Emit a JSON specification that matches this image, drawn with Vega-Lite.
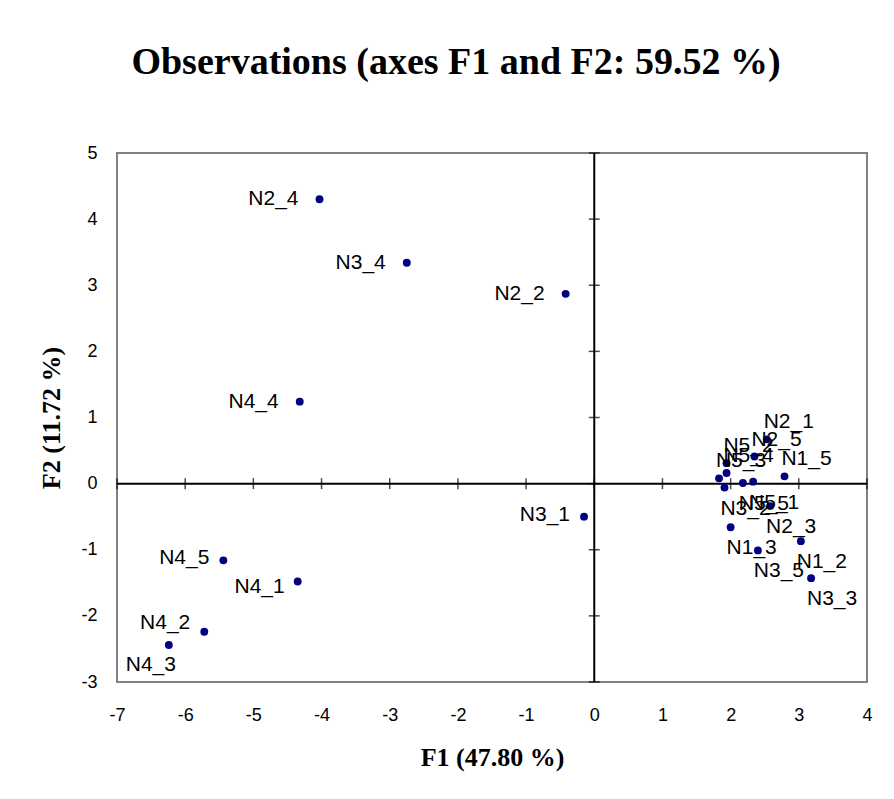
{
  "$schema": "https://vega.github.io/schema/vega-lite/v6.json",
  "autosize": {"type": "none"},
  "width": 750,
  "height": 529,
  "padding": {"left": 117, "top": 153, "right": 27, "bottom": 117},
  "background": "white",
  "title": {
    "text": "Observations (axes F1 and F2: 59.52 %)",
    "font": "Liberation Serif",
    "fontSize": 38,
    "fontWeight": "bold",
    "color": "black",
    "anchor": "middle",
    "dx": -36,
    "offset": 62
  },
  "config": {
    "view": {"stroke": "#808080", "strokeWidth": 2},
    "text": {"font": "Liberation Sans", "fontSize": 21, "color": "black"}
  },
  "datasets": {
    "obs": [
      {"name": "N2_4", "F1": -4.03, "F2": 4.30},
      {"name": "N3_4", "F1": -2.75, "F2": 3.34},
      {"name": "N2_2", "F1": -0.42, "F2": 2.87},
      {"name": "N4_4", "F1": -4.32, "F2": 1.24},
      {"name": "N3_1", "F1": -0.15, "F2": -0.50},
      {"name": "N4_5", "F1": -5.44, "F2": -1.16},
      {"name": "N4_1", "F1": -4.35, "F2": -1.48},
      {"name": "N4_2", "F1": -5.72, "F2": -2.24},
      {"name": "N4_3", "F1": -6.24, "F2": -2.44},
      {"name": "N2_1", "F1": 2.53, "F2": 0.67},
      {"name": "N2_5", "F1": 2.35, "F2": 0.41},
      {"name": "N5_2", "F1": 1.94, "F2": 0.31},
      {"name": "N5_4", "F1": 1.94, "F2": 0.16},
      {"name": "N5_3", "F1": 1.83, "F2": 0.08},
      {"name": "N3_2", "F1": 1.91, "F2": -0.06},
      {"name": "N5_5", "F1": 2.18, "F2": 0.01},
      {"name": "N5_1", "F1": 2.33, "F2": 0.03},
      {"name": "N1_5", "F1": 2.79, "F2": 0.11},
      {"name": "N2_3", "F1": 2.58, "F2": -0.34},
      {"name": "N1_3", "F1": 2.00, "F2": -0.66},
      {"name": "N1_2", "F1": 3.03, "F2": -0.87},
      {"name": "N3_5", "F1": 2.40, "F2": -1.01},
      {"name": "N3_3", "F1": 3.18, "F2": -1.43}
    ],
    "xticks": [
      {"t": -7}, {"t": -6}, {"t": -5}, {"t": -4}, {"t": -3}, {"t": -2},
      {"t": -1}, {"t": 0}, {"t": 1}, {"t": 2}, {"t": 3}, {"t": 4}
    ],
    "yticks": [
      {"t": -3}, {"t": -2}, {"t": -1}, {"t": 0}, {"t": 1},
      {"t": 2}, {"t": 3}, {"t": 4}, {"t": 5}
    ],
    "origin": [{"v": 0}]
  },
  "layer": [
    {
      "data": {"name": "origin"},
      "mark": {"type": "rule", "color": "black", "strokeWidth": 2},
      "encoding": {"x": {"field": "v", "type": "quantitative"}}
    },
    {
      "data": {"name": "origin"},
      "mark": {"type": "rule", "color": "black", "strokeWidth": 2},
      "encoding": {"y": {"field": "v", "type": "quantitative"}}
    },
    {
      "data": {"name": "xticks"},
      "mark": {"type": "tick", "orient": "vertical", "color": "black", "thickness": 1.5, "size": 11},
      "encoding": {
        "x": {"field": "t", "type": "quantitative"},
        "y": {"datum": 0, "type": "quantitative"}
      }
    },
    {
      "data": {"name": "yticks"},
      "mark": {"type": "tick", "orient": "horizontal", "color": "black", "thickness": 1.5, "size": 11},
      "encoding": {
        "y": {"field": "t", "type": "quantitative"},
        "x": {"datum": 0, "type": "quantitative"}
      }
    },
    {
      "data": {"name": "obs"},
      "mark": {"type": "point", "filled": true, "shape": "circle", "size": 62, "color": "#000080", "opacity": 1},
      "encoding": {
        "x": {
          "field": "F1", "type": "quantitative",
          "scale": {"domain": [-7, 4], "nice": false, "zero": false},
          "axis": {
            "orient": "bottom", "domain": false, "ticks": false, "grid": false,
            "values": [-7, -6, -5, -4, -3, -2, -1, 0, 1, 2, 3, 4],
            "labelExpr": "datum.value + ''",
            "labelFont": "Liberation Sans", "labelFontSize": 18, "labelColor": "black",
            "labelPadding": 24, "labelFlush": false,
            "title": "F1 (47.80 %)", "titleFont": "Liberation Serif", "titleFontSize": 26,
            "titleFontWeight": "bold", "titleColor": "black", "titlePadding": 20
          }
        },
        "y": {
          "field": "F2", "type": "quantitative",
          "scale": {"domain": [-3, 5], "nice": false, "zero": false},
          "axis": {
            "orient": "left", "domain": false, "ticks": false, "grid": false,
            "values": [-3, -2, -1, 0, 1, 2, 3, 4, 5],
            "labelExpr": "datum.value + ''",
            "labelFont": "Liberation Sans", "labelFontSize": 18, "labelColor": "black",
            "labelPadding": 20, "labelFlush": false,
            "title": "F2 (11.72 %)", "titleFont": "Liberation Serif", "titleFontSize": 26,
            "titleFontWeight": "bold", "titleColor": "black", "titlePadding": 16
          }
        }
      }
    },
    {
      "data": {"name": "obs"},
      "transform": [{"filter": {"field": "name", "oneOf": ["N2_4", "N3_4", "N2_2", "N4_4"]}}],
      "mark": {"type": "text", "align": "right", "baseline": "middle", "dx": -21, "dy": 0},
      "encoding": {"x": {"field": "F1", "type": "quantitative"}, "y": {"field": "F2", "type": "quantitative"}, "text": {"field": "name"}}
    },
    {
      "data": {"name": "obs"},
      "transform": [{"filter": {"field": "name", "oneOf": ["N3_1", "N4_5"]}}],
      "mark": {"type": "text", "align": "right", "baseline": "middle", "dx": -14, "dy": -2},
      "encoding": {"x": {"field": "F1", "type": "quantitative"}, "y": {"field": "F2", "type": "quantitative"}, "text": {"field": "name"}}
    },
    {
      "data": {"name": "obs"},
      "transform": [{"filter": {"field": "name", "equal": "N4_1"}}],
      "mark": {"type": "text", "align": "right", "baseline": "middle", "dx": -13, "dy": 6},
      "encoding": {"x": {"field": "F1", "type": "quantitative"}, "y": {"field": "F2", "type": "quantitative"}, "text": {"field": "name"}}
    },
    {
      "data": {"name": "obs"},
      "transform": [{"filter": {"field": "name", "equal": "N4_2"}}],
      "mark": {"type": "text", "align": "right", "baseline": "middle", "dx": -14, "dy": -9},
      "encoding": {"x": {"field": "F1", "type": "quantitative"}, "y": {"field": "F2", "type": "quantitative"}, "text": {"field": "name"}}
    },
    {
      "data": {"name": "obs"},
      "transform": [{"filter": {"field": "name", "equal": "N4_3"}}],
      "mark": {"type": "text", "align": "center", "baseline": "middle", "dx": -18, "dy": 20},
      "encoding": {"x": {"field": "F1", "type": "quantitative"}, "y": {"field": "F2", "type": "quantitative"}, "text": {"field": "name"}}
    },
    {
      "data": {"name": "obs"},
      "transform": [{"filter": {"field": "name", "oneOf": ["N2_1", "N2_5", "N5_2", "N5_4", "N5_3", "N1_5"]}}],
      "mark": {"type": "text", "align": "center", "baseline": "middle", "dx": 22, "dy": -17},
      "encoding": {"x": {"field": "F1", "type": "quantitative"}, "y": {"field": "F2", "type": "quantitative"}, "text": {"field": "name"}}
    },
    {
      "data": {"name": "obs"},
      "transform": [{"filter": {"field": "name", "oneOf": ["N3_2", "N5_5", "N5_1", "N2_3", "N1_3", "N1_2", "N3_5", "N3_3"]}}],
      "mark": {"type": "text", "align": "center", "baseline": "middle", "dx": 21, "dy": 21},
      "encoding": {"x": {"field": "F1", "type": "quantitative"}, "y": {"field": "F2", "type": "quantitative"}, "text": {"field": "name"}}
    }
  ]
}
